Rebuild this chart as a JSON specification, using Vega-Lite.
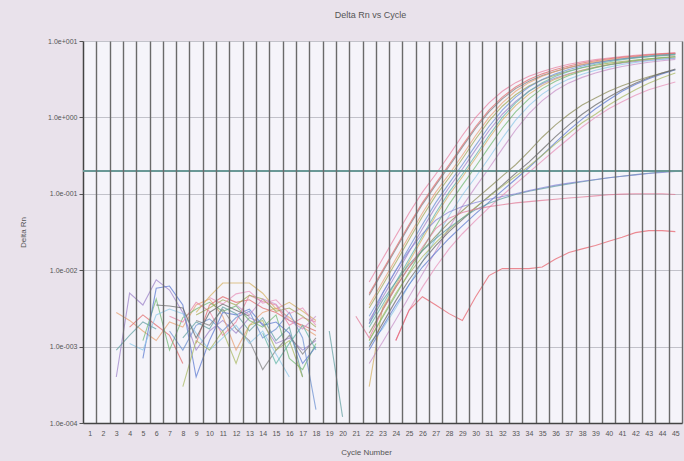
{
"$schema":"https://vega.github.io/schema/vega-lite/v6.json",
"width":599,"height":382,
"autosize":{"type":"none"},
"padding":{"left":83,"top":41,"right":2,"bottom":38},
"background":"#e9e2eb",
"title":{"text":"Delta Rn vs Cycle","fontSize":9,"font":"Liberation Sans","fontWeight":"normal","color":"#555555","offset":17,"dx":-12},
"config":{"view":{"fill":"#f5f4fa","stroke":null},"axis":{"labelFont":"Liberation Sans","titleFont":"Liberation Sans","labelColor":"#555555","titleColor":"#555555"}},
"data":{"values":[
{"w":"M1","g":"a","c":22,"v":0.007},{"w":"M1","g":"a","c":23,"v":0.014},{"w":"M1","g":"a","c":24,"v":0.028},{"w":"M1","g":"a","c":25,"v":0.056},{"w":"M1","g":"a","c":26,"v":0.105},{"w":"M1","g":"a","c":27,"v":0.18},{"w":"M1","g":"a","c":28,"v":0.32},{"w":"M1","g":"a","c":29,"v":0.58},{"w":"M1","g":"a","c":30,"v":1.0},{"w":"M1","g":"a","c":31,"v":1.55},{"w":"M1","g":"a","c":32,"v":2.2},{"w":"M1","g":"a","c":33,"v":2.85},{"w":"M1","g":"a","c":34,"v":3.45},{"w":"M1","g":"a","c":35,"v":4.0},{"w":"M1","g":"a","c":36,"v":4.5},{"w":"M1","g":"a","c":37,"v":4.95},{"w":"M1","g":"a","c":38,"v":5.35},{"w":"M1","g":"a","c":39,"v":5.7},{"w":"M1","g":"a","c":40,"v":6.0},{"w":"M1","g":"a","c":41,"v":6.25},{"w":"M1","g":"a","c":42,"v":6.5},{"w":"M1","g":"a","c":43,"v":6.7},{"w":"M1","g":"a","c":44,"v":6.85},{"w":"M1","g":"a","c":45,"v":7.0},
{"w":"M2","g":"a","c":22,"v":0.0047},{"w":"M2","g":"a","c":23,"v":0.0094},{"w":"M2","g":"a","c":24,"v":0.0188},{"w":"M2","g":"a","c":25,"v":0.0376},{"w":"M2","g":"a","c":26,"v":0.0728},{"w":"M2","g":"a","c":27,"v":0.13},{"w":"M2","g":"a","c":28,"v":0.228},{"w":"M2","g":"a","c":29,"v":0.409},{"w":"M2","g":"a","c":30,"v":0.722},{"w":"M2","g":"a","c":31,"v":1.18},{"w":"M2","g":"a","c":32,"v":1.75},{"w":"M2","g":"a","c":33,"v":2.38},{"w":"M2","g":"a","c":34,"v":2.98},{"w":"M2","g":"a","c":35,"v":3.53},{"w":"M2","g":"a","c":36,"v":4.03},{"w":"M2","g":"a","c":37,"v":4.48},{"w":"M2","g":"a","c":38,"v":4.89},{"w":"M2","g":"a","c":39,"v":5.24},{"w":"M2","g":"a","c":40,"v":5.56},{"w":"M2","g":"a","c":41,"v":5.81},{"w":"M2","g":"a","c":42,"v":6.06},{"w":"M2","g":"a","c":43,"v":6.27},{"w":"M2","g":"a","c":44,"v":6.44},{"w":"M2","g":"a","c":45,"v":6.58},
{"w":"M3","g":"a","c":22,"v":0.0035},{"w":"M3","g":"a","c":23,"v":0.007},{"w":"M3","g":"a","c":24,"v":0.014},{"w":"M3","g":"a","c":25,"v":0.028},{"w":"M3","g":"a","c":26,"v":0.056},{"w":"M3","g":"a","c":27,"v":0.105},{"w":"M3","g":"a","c":28,"v":0.18},{"w":"M3","g":"a","c":29,"v":0.32},{"w":"M3","g":"a","c":30,"v":0.58},{"w":"M3","g":"a","c":31,"v":1.0},{"w":"M3","g":"a","c":32,"v":1.55},{"w":"M3","g":"a","c":33,"v":2.2},{"w":"M3","g":"a","c":34,"v":2.85},{"w":"M3","g":"a","c":35,"v":3.45},{"w":"M3","g":"a","c":36,"v":4.0},{"w":"M3","g":"a","c":37,"v":4.5},{"w":"M3","g":"a","c":38,"v":4.95},{"w":"M3","g":"a","c":39,"v":5.35},{"w":"M3","g":"a","c":40,"v":5.7},{"w":"M3","g":"a","c":41,"v":6.0},{"w":"M3","g":"a","c":42,"v":6.25},{"w":"M3","g":"a","c":43,"v":6.5},{"w":"M3","g":"a","c":44,"v":6.7},{"w":"M3","g":"a","c":45,"v":6.85},
{"w":"M4","g":"a","c":22,"v":0.0032},{"w":"M4","g":"a","c":23,"v":0.0063},{"w":"M4","g":"a","c":24,"v":0.0126},{"w":"M4","g":"a","c":25,"v":0.0252},{"w":"M4","g":"a","c":26,"v":0.0504},{"w":"M4","g":"a","c":27,"v":0.0945},{"w":"M4","g":"a","c":28,"v":0.162},{"w":"M4","g":"a","c":29,"v":0.288},{"w":"M4","g":"a","c":30,"v":0.522},{"w":"M4","g":"a","c":31,"v":0.9},{"w":"M4","g":"a","c":32,"v":1.4},{"w":"M4","g":"a","c":33,"v":1.98},{"w":"M4","g":"a","c":34,"v":2.57},{"w":"M4","g":"a","c":35,"v":3.11},{"w":"M4","g":"a","c":36,"v":3.6},{"w":"M4","g":"a","c":37,"v":4.05},{"w":"M4","g":"a","c":38,"v":4.46},{"w":"M4","g":"a","c":39,"v":4.82},{"w":"M4","g":"a","c":40,"v":5.13},{"w":"M4","g":"a","c":41,"v":5.4},{"w":"M4","g":"a","c":42,"v":5.63},{"w":"M4","g":"a","c":43,"v":5.85},{"w":"M4","g":"a","c":44,"v":6.03},{"w":"M4","g":"a","c":45,"v":6.17},
{"w":"M5","g":"a","c":22,"v":0.0025},{"w":"M5","g":"a","c":23,"v":0.00495},{"w":"M5","g":"a","c":24,"v":0.0099},{"w":"M5","g":"a","c":25,"v":0.0198},{"w":"M5","g":"a","c":26,"v":0.0396},{"w":"M5","g":"a","c":27,"v":0.0766},{"w":"M5","g":"a","c":28,"v":0.137},{"w":"M5","g":"a","c":29,"v":0.24},{"w":"M5","g":"a","c":30,"v":0.43},{"w":"M5","g":"a","c":31,"v":0.76},{"w":"M5","g":"a","c":32,"v":1.245},{"w":"M5","g":"a","c":33,"v":1.845},{"w":"M5","g":"a","c":34,"v":2.5},{"w":"M5","g":"a","c":35,"v":3.14},{"w":"M5","g":"a","c":36,"v":3.715},{"w":"M5","g":"a","c":37,"v":4.24},{"w":"M5","g":"a","c":38,"v":4.72},{"w":"M5","g":"a","c":39,"v":5.15},{"w":"M5","g":"a","c":40,"v":5.52},{"w":"M5","g":"a","c":41,"v":5.85},{"w":"M5","g":"a","c":42,"v":6.12},{"w":"M5","g":"a","c":43,"v":6.375},{"w":"M5","g":"a","c":44,"v":6.6},{"w":"M5","g":"a","c":45,"v":6.78},
{"w":"M6","g":"a","c":22,"v":0.0022},{"w":"M6","g":"a","c":23,"v":0.0044},{"w":"M6","g":"a","c":24,"v":0.0087},{"w":"M6","g":"a","c":25,"v":0.0174},{"w":"M6","g":"a","c":26,"v":0.0348},{"w":"M6","g":"a","c":27,"v":0.0674},{"w":"M6","g":"a","c":28,"v":0.121},{"w":"M6","g":"a","c":29,"v":0.211},{"w":"M6","g":"a","c":30,"v":0.378},{"w":"M6","g":"a","c":31,"v":0.669},{"w":"M6","g":"a","c":32,"v":1.1},{"w":"M6","g":"a","c":33,"v":1.62},{"w":"M6","g":"a","c":34,"v":2.2},{"w":"M6","g":"a","c":35,"v":2.76},{"w":"M6","g":"a","c":36,"v":3.27},{"w":"M6","g":"a","c":37,"v":3.73},{"w":"M6","g":"a","c":38,"v":4.15},{"w":"M6","g":"a","c":39,"v":4.53},{"w":"M6","g":"a","c":40,"v":4.86},{"w":"M6","g":"a","c":41,"v":5.15},{"w":"M6","g":"a","c":42,"v":5.39},{"w":"M6","g":"a","c":43,"v":5.61},{"w":"M6","g":"a","c":44,"v":5.81},{"w":"M6","g":"a","c":45,"v":5.97},
{"w":"M7","g":"a","c":22,"v":0.0018},{"w":"M7","g":"a","c":23,"v":0.0035},{"w":"M7","g":"a","c":24,"v":0.007},{"w":"M7","g":"a","c":25,"v":0.014},{"w":"M7","g":"a","c":26,"v":0.028},{"w":"M7","g":"a","c":27,"v":0.056},{"w":"M7","g":"a","c":28,"v":0.105},{"w":"M7","g":"a","c":29,"v":0.18},{"w":"M7","g":"a","c":30,"v":0.32},{"w":"M7","g":"a","c":31,"v":0.58},{"w":"M7","g":"a","c":32,"v":1.0},{"w":"M7","g":"a","c":33,"v":1.55},{"w":"M7","g":"a","c":34,"v":2.2},{"w":"M7","g":"a","c":35,"v":2.85},{"w":"M7","g":"a","c":36,"v":3.45},{"w":"M7","g":"a","c":37,"v":4.0},{"w":"M7","g":"a","c":38,"v":4.5},{"w":"M7","g":"a","c":39,"v":4.95},{"w":"M7","g":"a","c":40,"v":5.35},{"w":"M7","g":"a","c":41,"v":5.7},{"w":"M7","g":"a","c":42,"v":6.0},{"w":"M7","g":"a","c":43,"v":6.25},{"w":"M7","g":"a","c":44,"v":6.5},{"w":"M7","g":"a","c":45,"v":6.7},
{"w":"M8","g":"a","c":22,"v":0.0003},{"w":"M8","g":"a","c":23,"v":0.0032},{"w":"M8","g":"a","c":24,"v":0.0064},{"w":"M8","g":"a","c":25,"v":0.0129},{"w":"M8","g":"a","c":26,"v":0.0258},{"w":"M8","g":"a","c":27,"v":0.0515},{"w":"M8","g":"a","c":28,"v":0.0966},{"w":"M8","g":"a","c":29,"v":0.166},{"w":"M8","g":"a","c":30,"v":0.294},{"w":"M8","g":"a","c":31,"v":0.534},{"w":"M8","g":"a","c":32,"v":0.92},{"w":"M8","g":"a","c":33,"v":1.43},{"w":"M8","g":"a","c":34,"v":2.02},{"w":"M8","g":"a","c":35,"v":2.62},{"w":"M8","g":"a","c":36,"v":3.17},{"w":"M8","g":"a","c":37,"v":3.68},{"w":"M8","g":"a","c":38,"v":4.14},{"w":"M8","g":"a","c":39,"v":4.55},{"w":"M8","g":"a","c":40,"v":4.92},{"w":"M8","g":"a","c":41,"v":5.24},{"w":"M8","g":"a","c":42,"v":5.52},{"w":"M8","g":"a","c":43,"v":5.75},{"w":"M8","g":"a","c":44,"v":5.98},{"w":"M8","g":"a","c":45,"v":6.16},
{"w":"M9","g":"a","c":22,"v":0.0012},{"w":"M9","g":"a","c":23,"v":0.0024},{"w":"M9","g":"a","c":24,"v":0.0047},{"w":"M9","g":"a","c":25,"v":0.0094},{"w":"M9","g":"a","c":26,"v":0.0188},{"w":"M9","g":"a","c":27,"v":0.0376},{"w":"M9","g":"a","c":28,"v":0.0728},{"w":"M9","g":"a","c":29,"v":0.13},{"w":"M9","g":"a","c":30,"v":0.228},{"w":"M9","g":"a","c":31,"v":0.409},{"w":"M9","g":"a","c":32,"v":0.722},{"w":"M9","g":"a","c":33,"v":1.18},{"w":"M9","g":"a","c":34,"v":1.75},{"w":"M9","g":"a","c":35,"v":2.38},{"w":"M9","g":"a","c":36,"v":2.98},{"w":"M9","g":"a","c":37,"v":3.53},{"w":"M9","g":"a","c":38,"v":4.03},{"w":"M9","g":"a","c":39,"v":4.48},{"w":"M9","g":"a","c":40,"v":4.89},{"w":"M9","g":"a","c":41,"v":5.24},{"w":"M9","g":"a","c":42,"v":5.56},{"w":"M9","g":"a","c":43,"v":5.81},{"w":"M9","g":"a","c":44,"v":6.06},{"w":"M9","g":"a","c":45,"v":6.27},
{"w":"M10","g":"a","c":22,"v":0.0011},{"w":"M10","g":"a","c":23,"v":0.0017},{"w":"M10","g":"a","c":24,"v":0.0032},{"w":"M10","g":"a","c":25,"v":0.0064},{"w":"M10","g":"a","c":26,"v":0.0129},{"w":"M10","g":"a","c":27,"v":0.0258},{"w":"M10","g":"a","c":28,"v":0.0515},{"w":"M10","g":"a","c":29,"v":0.0966},{"w":"M10","g":"a","c":30,"v":0.166},{"w":"M10","g":"a","c":31,"v":0.294},{"w":"M10","g":"a","c":32,"v":0.534},{"w":"M10","g":"a","c":33,"v":0.92},{"w":"M10","g":"a","c":34,"v":1.43},{"w":"M10","g":"a","c":35,"v":2.02},{"w":"M10","g":"a","c":36,"v":2.62},{"w":"M10","g":"a","c":37,"v":3.17},{"w":"M10","g":"a","c":38,"v":3.68},{"w":"M10","g":"a","c":39,"v":4.14},{"w":"M10","g":"a","c":40,"v":4.55},{"w":"M10","g":"a","c":41,"v":4.92},{"w":"M10","g":"a","c":42,"v":5.24},{"w":"M10","g":"a","c":43,"v":5.52},{"w":"M10","g":"a","c":44,"v":5.75},{"w":"M10","g":"a","c":45,"v":5.98},
{"w":"M11","g":"a","c":22,"v":0.0006},{"w":"M11","g":"a","c":23,"v":0.00114},{"w":"M11","g":"a","c":24,"v":0.00225},{"w":"M11","g":"a","c":25,"v":0.0045},{"w":"M11","g":"a","c":26,"v":0.0089},{"w":"M11","g":"a","c":27,"v":0.0178},{"w":"M11","g":"a","c":28,"v":0.0356},{"w":"M11","g":"a","c":29,"v":0.0689},{"w":"M11","g":"a","c":30,"v":0.123},{"w":"M11","g":"a","c":31,"v":0.216},{"w":"M11","g":"a","c":32,"v":0.387},{"w":"M11","g":"a","c":33,"v":0.684},{"w":"M11","g":"a","c":34,"v":1.12},{"w":"M11","g":"a","c":35,"v":1.66},{"w":"M11","g":"a","c":36,"v":2.25},{"w":"M11","g":"a","c":37,"v":2.83},{"w":"M11","g":"a","c":38,"v":3.34},{"w":"M11","g":"a","c":39,"v":3.82},{"w":"M11","g":"a","c":40,"v":4.25},{"w":"M11","g":"a","c":41,"v":4.64},{"w":"M11","g":"a","c":42,"v":4.97},{"w":"M11","g":"a","c":43,"v":5.27},{"w":"M11","g":"a","c":44,"v":5.51},{"w":"M11","g":"a","c":45,"v":5.74},
{"w":"M12","g":"a","c":22,"v":0.00495},{"w":"M12","g":"a","c":23,"v":0.0099},{"w":"M12","g":"a","c":24,"v":0.0198},{"w":"M12","g":"a","c":25,"v":0.0396},{"w":"M12","g":"a","c":26,"v":0.0766},{"w":"M12","g":"a","c":27,"v":0.137},{"w":"M12","g":"a","c":28,"v":0.24},{"w":"M12","g":"a","c":29,"v":0.43},{"w":"M12","g":"a","c":30,"v":0.76},{"w":"M12","g":"a","c":31,"v":1.245},{"w":"M12","g":"a","c":32,"v":1.845},{"w":"M12","g":"a","c":33,"v":2.5},{"w":"M12","g":"a","c":34,"v":3.14},{"w":"M12","g":"a","c":35,"v":3.715},{"w":"M12","g":"a","c":36,"v":4.24},{"w":"M12","g":"a","c":37,"v":4.72},{"w":"M12","g":"a","c":38,"v":5.15},{"w":"M12","g":"a","c":39,"v":5.52},{"w":"M12","g":"a","c":40,"v":5.85},{"w":"M12","g":"a","c":41,"v":6.12},{"w":"M12","g":"a","c":42,"v":6.375},{"w":"M12","g":"a","c":43,"v":6.6},{"w":"M12","g":"a","c":44,"v":6.78},{"w":"M12","g":"a","c":45,"v":6.93},
{"w":"K1","g":"a","c":22,"v":0.0015},{"w":"K1","g":"a","c":23,"v":0.003},{"w":"K1","g":"a","c":24,"v":0.006},{"w":"K1","g":"a","c":25,"v":0.011},{"w":"K1","g":"a","c":26,"v":0.018},{"w":"K1","g":"a","c":27,"v":0.028},{"w":"K1","g":"a","c":28,"v":0.042},{"w":"K1","g":"a","c":29,"v":0.06},{"w":"K1","g":"a","c":30,"v":0.085},{"w":"K1","g":"a","c":31,"v":0.12},{"w":"K1","g":"a","c":32,"v":0.17},{"w":"K1","g":"a","c":33,"v":0.24},{"w":"K1","g":"a","c":34,"v":0.36},{"w":"K1","g":"a","c":35,"v":0.55},{"w":"K1","g":"a","c":36,"v":0.8},{"w":"K1","g":"a","c":37,"v":1.1},{"w":"K1","g":"a","c":38,"v":1.45},{"w":"K1","g":"a","c":39,"v":1.8},{"w":"K1","g":"a","c":40,"v":2.2},{"w":"K1","g":"a","c":41,"v":2.6},{"w":"K1","g":"a","c":42,"v":3.0},{"w":"K1","g":"a","c":43,"v":3.4},{"w":"K1","g":"a","c":44,"v":3.8},{"w":"K1","g":"a","c":45,"v":4.2},
{"w":"K2","g":"a","c":22,"v":0.0009},{"w":"K2","g":"a","c":23,"v":0.0018},{"w":"K2","g":"a","c":24,"v":0.0035},{"w":"K2","g":"a","c":25,"v":0.0065},{"w":"K2","g":"a","c":26,"v":0.011},{"w":"K2","g":"a","c":27,"v":0.017},{"w":"K2","g":"a","c":28,"v":0.026},{"w":"K2","g":"a","c":29,"v":0.038},{"w":"K2","g":"a","c":30,"v":0.055},{"w":"K2","g":"a","c":31,"v":0.078},{"w":"K2","g":"a","c":32,"v":0.11},{"w":"K2","g":"a","c":33,"v":0.155},{"w":"K2","g":"a","c":34,"v":0.22},{"w":"K2","g":"a","c":35,"v":0.32},{"w":"K2","g":"a","c":36,"v":0.47},{"w":"K2","g":"a","c":37,"v":0.68},{"w":"K2","g":"a","c":38,"v":0.95},{"w":"K2","g":"a","c":39,"v":1.3},{"w":"K2","g":"a","c":40,"v":1.7},{"w":"K2","g":"a","c":41,"v":2.2},{"w":"K2","g":"a","c":42,"v":2.7},{"w":"K2","g":"a","c":43,"v":3.2},{"w":"K2","g":"a","c":44,"v":3.7},{"w":"K2","g":"a","c":45,"v":4.2},
{"w":"K3","g":"a","c":22,"v":0.001},{"w":"K3","g":"a","c":23,"v":0.002},{"w":"K3","g":"a","c":24,"v":0.004},{"w":"K3","g":"a","c":25,"v":0.0075},{"w":"K3","g":"a","c":26,"v":0.013},{"w":"K3","g":"a","c":27,"v":0.021},{"w":"K3","g":"a","c":28,"v":0.032},{"w":"K3","g":"a","c":29,"v":0.046},{"w":"K3","g":"a","c":30,"v":0.066},{"w":"K3","g":"a","c":31,"v":0.093},{"w":"K3","g":"a","c":32,"v":0.13},{"w":"K3","g":"a","c":33,"v":0.185},{"w":"K3","g":"a","c":34,"v":0.26},{"w":"K3","g":"a","c":35,"v":0.38},{"w":"K3","g":"a","c":36,"v":0.56},{"w":"K3","g":"a","c":37,"v":0.8},{"w":"K3","g":"a","c":38,"v":1.1},{"w":"K3","g":"a","c":39,"v":1.45},{"w":"K3","g":"a","c":40,"v":1.85},{"w":"K3","g":"a","c":41,"v":2.3},{"w":"K3","g":"a","c":42,"v":2.8},{"w":"K3","g":"a","c":43,"v":3.3},{"w":"K3","g":"a","c":44,"v":3.8},{"w":"K3","g":"a","c":45,"v":4.3},
{"w":"K4","g":"a","c":24,"v":0.0012},{"w":"K4","g":"a","c":25,"v":0.003},{"w":"K4","g":"a","c":26,"v":0.006},{"w":"K4","g":"a","c":27,"v":0.011},{"w":"K4","g":"a","c":28,"v":0.019},{"w":"K4","g":"a","c":29,"v":0.03},{"w":"K4","g":"a","c":30,"v":0.045},{"w":"K4","g":"a","c":31,"v":0.066},{"w":"K4","g":"a","c":32,"v":0.095},{"w":"K4","g":"a","c":33,"v":0.135},{"w":"K4","g":"a","c":34,"v":0.19},{"w":"K4","g":"a","c":35,"v":0.27},{"w":"K4","g":"a","c":36,"v":0.38},{"w":"K4","g":"a","c":37,"v":0.53},{"w":"K4","g":"a","c":38,"v":0.75},{"w":"K4","g":"a","c":39,"v":1.0},{"w":"K4","g":"a","c":40,"v":1.3},{"w":"K4","g":"a","c":41,"v":1.6},{"w":"K4","g":"a","c":42,"v":1.95},{"w":"K4","g":"a","c":43,"v":2.3},{"w":"K4","g":"a","c":44,"v":2.6},{"w":"K4","g":"a","c":45,"v":2.9},
{"w":"K5","g":"a","c":22,"v":0.0012},{"w":"K5","g":"a","c":23,"v":0.0025},{"w":"K5","g":"a","c":24,"v":0.005},{"w":"K5","g":"a","c":25,"v":0.009},{"w":"K5","g":"a","c":26,"v":0.015},{"w":"K5","g":"a","c":27,"v":0.023},{"w":"K5","g":"a","c":28,"v":0.034},{"w":"K5","g":"a","c":29,"v":0.048},{"w":"K5","g":"a","c":30,"v":0.067},{"w":"K5","g":"a","c":31,"v":0.092},{"w":"K5","g":"a","c":32,"v":0.125},{"w":"K5","g":"a","c":33,"v":0.17},{"w":"K5","g":"a","c":34,"v":0.23},{"w":"K5","g":"a","c":35,"v":0.32},{"w":"K5","g":"a","c":36,"v":0.45},{"w":"K5","g":"a","c":37,"v":0.62},{"w":"K5","g":"a","c":38,"v":0.85},{"w":"K5","g":"a","c":39,"v":1.1},{"w":"K5","g":"a","c":40,"v":1.45},{"w":"K5","g":"a","c":41,"v":1.85},{"w":"K5","g":"a","c":42,"v":2.3},{"w":"K5","g":"a","c":43,"v":2.8},{"w":"K5","g":"a","c":44,"v":3.3},{"w":"K5","g":"a","c":45,"v":3.8},
{"w":"F1","g":"a","c":22,"v":0.002},{"w":"F1","g":"a","c":23,"v":0.004},{"w":"F1","g":"a","c":24,"v":0.007},{"w":"F1","g":"a","c":25,"v":0.012},{"w":"F1","g":"a","c":26,"v":0.018},{"w":"F1","g":"a","c":27,"v":0.026},{"w":"F1","g":"a","c":28,"v":0.036},{"w":"F1","g":"a","c":29,"v":0.048},{"w":"F1","g":"a","c":30,"v":0.062},{"w":"F1","g":"a","c":31,"v":0.075},{"w":"F1","g":"a","c":32,"v":0.087},{"w":"F1","g":"a","c":33,"v":0.098},{"w":"F1","g":"a","c":34,"v":0.108},{"w":"F1","g":"a","c":35,"v":0.117},{"w":"F1","g":"a","c":36,"v":0.126},{"w":"F1","g":"a","c":37,"v":0.135},{"w":"F1","g":"a","c":38,"v":0.144},{"w":"F1","g":"a","c":39,"v":0.153},{"w":"F1","g":"a","c":40,"v":0.162},{"w":"F1","g":"a","c":41,"v":0.17},{"w":"F1","g":"a","c":42,"v":0.178},{"w":"F1","g":"a","c":43,"v":0.186},{"w":"F1","g":"a","c":44,"v":0.193},{"w":"F1","g":"a","c":45,"v":0.2},
{"w":"F2","g":"a","c":21,"v":0.0025},{"w":"F2","g":"a","c":22,"v":0.0013},{"w":"F2","g":"a","c":23,"v":0.003},{"w":"F2","g":"a","c":24,"v":0.006},{"w":"F2","g":"a","c":25,"v":0.011},{"w":"F2","g":"a","c":26,"v":0.02},{"w":"F2","g":"a","c":27,"v":0.035},{"w":"F2","g":"a","c":28,"v":0.048},{"w":"F2","g":"a","c":29,"v":0.057},{"w":"F2","g":"a","c":30,"v":0.063},{"w":"F2","g":"a","c":31,"v":0.068},{"w":"F2","g":"a","c":32,"v":0.072},{"w":"F2","g":"a","c":33,"v":0.076},{"w":"F2","g":"a","c":34,"v":0.079},{"w":"F2","g":"a","c":35,"v":0.082},{"w":"F2","g":"a","c":36,"v":0.085},{"w":"F2","g":"a","c":37,"v":0.088},{"w":"F2","g":"a","c":38,"v":0.091},{"w":"F2","g":"a","c":39,"v":0.094},{"w":"F2","g":"a","c":40,"v":0.097},{"w":"F2","g":"a","c":41,"v":0.099},{"w":"F2","g":"a","c":42,"v":0.1},{"w":"F2","g":"a","c":43,"v":0.1},{"w":"F2","g":"a","c":44,"v":0.1},{"w":"F2","g":"a","c":45,"v":0.098},
{"w":"F3","g":"a","c":22,"v":0.002},{"w":"F3","g":"a","c":23,"v":0.005},{"w":"F3","g":"a","c":24,"v":0.01},{"w":"F3","g":"a","c":25,"v":0.018},{"w":"F3","g":"a","c":26,"v":0.03},{"w":"F3","g":"a","c":27,"v":0.045},{"w":"F3","g":"a","c":28,"v":0.058},{"w":"F3","g":"a","c":29,"v":0.068},{"w":"F3","g":"a","c":30,"v":0.077},{"w":"F3","g":"a","c":31,"v":0.085},{"w":"F3","g":"a","c":32,"v":0.092},{"w":"F3","g":"a","c":33,"v":0.1},{"w":"F3","g":"a","c":34,"v":0.11},{"w":"F3","g":"a","c":35,"v":0.12},{"w":"F3","g":"a","c":36,"v":0.13},{"w":"F3","g":"a","c":37,"v":0.138},{"w":"F3","g":"a","c":38,"v":0.146},{"w":"F3","g":"a","c":39,"v":0.154},{"w":"F3","g":"a","c":40,"v":0.162},{"w":"F3","g":"a","c":41,"v":0.17},{"w":"F3","g":"a","c":42,"v":0.177},{"w":"F3","g":"a","c":43,"v":0.184},{"w":"F3","g":"a","c":44,"v":0.19},{"w":"F3","g":"a","c":45,"v":0.196},
{"w":"F4","g":"a","c":24,"v":0.0012},{"w":"F4","g":"a","c":25,"v":0.003},{"w":"F4","g":"a","c":26,"v":0.0045},{"w":"F4","g":"a","c":27,"v":0.0035},{"w":"F4","g":"a","c":28,"v":0.0027},{"w":"F4","g":"a","c":29,"v":0.0022},{"w":"F4","g":"a","c":30,"v":0.0045},{"w":"F4","g":"a","c":31,"v":0.0085},{"w":"F4","g":"a","c":32,"v":0.0105},{"w":"F4","g":"a","c":33,"v":0.0105},{"w":"F4","g":"a","c":34,"v":0.0105},{"w":"F4","g":"a","c":35,"v":0.011},{"w":"F4","g":"a","c":36,"v":0.014},{"w":"F4","g":"a","c":37,"v":0.017},{"w":"F4","g":"a","c":38,"v":0.019},{"w":"F4","g":"a","c":39,"v":0.021},{"w":"F4","g":"a","c":40,"v":0.024},{"w":"F4","g":"a","c":41,"v":0.027},{"w":"F4","g":"a","c":42,"v":0.031},{"w":"F4","g":"a","c":43,"v":0.033},{"w":"F4","g":"a","c":44,"v":0.033},{"w":"F4","g":"a","c":45,"v":0.032},
{"w":"M6","g":"n","c":3,"v":0.0004},{"w":"M6","g":"n","c":4,"v":0.005},{"w":"M6","g":"n","c":5,"v":0.0035},{"w":"M6","g":"n","c":6,"v":0.0075},{"w":"M6","g":"n","c":7,"v":0.0055},{"w":"M6","g":"n","c":8,"v":0.0028},{"w":"M6","g":"n","c":9,"v":0.0009},{"w":"M6","g":"n","c":10,"v":0.0016},{"w":"M6","g":"n","c":11,"v":0.0022},{"w":"M6","g":"n","c":12,"v":0.0015},{"w":"M6","g":"n","c":13,"v":0.0024},{"w":"M6","g":"n","c":14,"v":0.002},{"w":"M6","g":"n","c":15,"v":0.0011},{"w":"M6","g":"n","c":16,"v":0.0013},{"w":"M6","g":"n","c":17,"v":0.0009},{"w":"M6","g":"n","c":18,"v":0.0012},
{"w":"M3","g":"n","c":3,"v":0.0028},{"w":"M3","g":"n","c":4,"v":0.0022},{"w":"M3","g":"n","c":5,"v":0.0016},{"w":"M3","g":"n","c":6,"v":0.0012},{"w":"M3","g":"n","c":7,"v":0.0021},{"w":"M3","g":"n","c":8,"v":0.0018},{"w":"M3","g":"n","c":9,"v":0.0035},{"w":"M3","g":"n","c":10,"v":0.0042},{"w":"M3","g":"n","c":11,"v":0.0025},{"w":"M3","g":"n","c":12,"v":0.0009},{"w":"M3","g":"n","c":13,"v":0.0019},{"w":"M3","g":"n","c":14,"v":0.0028},{"w":"M3","g":"n","c":15,"v":0.0032},{"w":"M3","g":"n","c":16,"v":0.0024},{"w":"M3","g":"n","c":17,"v":0.0018},{"w":"M3","g":"n","c":18,"v":0.0014},
{"w":"M12","g":"n1","c":4,"v":0.0018},{"w":"M12","g":"n1","c":5,"v":0.0026},{"w":"M12","g":"n1","c":6,"v":0.0019},{"w":"M12","g":"n1","c":7,"v":0.0014},{"w":"M12","g":"n1","c":8,"v":0.0006},{"w":"M12","g":"n2","c":9,"v":0.0011},{"w":"M12","g":"n2","c":10,"v":0.0035},{"w":"M12","g":"n2","c":11,"v":0.0045},{"w":"M12","g":"n2","c":12,"v":0.0038},{"w":"M12","g":"n2","c":13,"v":0.0041},{"w":"M12","g":"n2","c":14,"v":0.0032},{"w":"M12","g":"n2","c":15,"v":0.0028},{"w":"M12","g":"n2","c":16,"v":0.0022},{"w":"M12","g":"n2","c":17,"v":0.0019},{"w":"M12","g":"n2","c":18,"v":0.0016},
{"w":"M9","g":"n","c":5,"v":0.0012},{"w":"M9","g":"n","c":6,"v":0.0042},{"w":"M9","g":"n","c":7,"v":0.0009},{"w":"M9","g":"n","c":8,"v":0.0024},{"w":"M9","g":"n","c":9,"v":0.0031},{"w":"M9","g":"n","c":10,"v":0.0038},{"w":"M9","g":"n","c":11,"v":0.0029},{"w":"M9","g":"n","c":12,"v":0.0034},{"w":"M9","g":"n","c":13,"v":0.0022},{"w":"M9","g":"n","c":14,"v":0.0018},{"w":"M9","g":"n","c":15,"v":0.0026},{"w":"M9","g":"n","c":16,"v":0.0007},{"w":"M9","g":"n","c":17,"v":0.0005},{"w":"M9","g":"n","c":18,"v":0.0011},
{"w":"K2","g":"n","c":5,"v":0.0007},{"w":"K2","g":"n","c":6,"v":0.0058},{"w":"K2","g":"n","c":7,"v":0.0062},{"w":"K2","g":"n","c":8,"v":0.0035},{"w":"K2","g":"n","c":9,"v":0.0004},{"w":"K2","g":"n","c":10,"v":0.0012},{"w":"K2","g":"n","c":11,"v":0.0028},{"w":"K2","g":"n","c":12,"v":0.0026},{"w":"K2","g":"n","c":13,"v":0.0031},{"w":"K2","g":"n","c":14,"v":0.0019},{"w":"K2","g":"n","c":15,"v":0.0021},{"w":"K2","g":"n","c":16,"v":0.0015},{"w":"K2","g":"n","c":17,"v":0.0006},{"w":"K2","g":"n","c":18,"v":0.001},
{"w":"F1","g":"n1","c":3,"v":0.0009},{"w":"F1","g":"n1","c":4,"v":0.0014},{"w":"F1","g":"n1","c":5,"v":0.0021},{"w":"F1","g":"n1","c":6,"v":0.0017},{"w":"F1","g":"n2","c":8,"v":0.0013},{"w":"F1","g":"n2","c":9,"v":0.0021},{"w":"F1","g":"n2","c":10,"v":0.0017},{"w":"F1","g":"n2","c":11,"v":0.0033},{"w":"F1","g":"n2","c":12,"v":0.0027},{"w":"F1","g":"n2","c":13,"v":0.0016},{"w":"F1","g":"n2","c":14,"v":0.0024},{"w":"F1","g":"n2","c":15,"v":0.0012},{"w":"F1","g":"n2","c":16,"v":0.0018},{"w":"F1","g":"n2","c":17,"v":0.0004},{"w":"F1","g":"n3","c":19,"v":0.0016},{"w":"F1","g":"n3","c":20,"v":0.00012},
{"w":"M8","g":"n","c":9,"v":0.0028},{"w":"M8","g":"n","c":10,"v":0.0045},{"w":"M8","g":"n","c":11,"v":0.0068},{"w":"M8","g":"n","c":12,"v":0.0068},{"w":"M8","g":"n","c":13,"v":0.0068},{"w":"M8","g":"n","c":14,"v":0.005},{"w":"M8","g":"n","c":15,"v":0.0031},{"w":"M8","g":"n","c":16,"v":0.0038},{"w":"M8","g":"n","c":17,"v":0.0029},{"w":"M8","g":"n","c":18,"v":0.0022},
{"w":"M1","g":"n","c":7,"v":0.0025},{"w":"M1","g":"n","c":8,"v":0.0021},{"w":"M1","g":"n","c":9,"v":0.0038},{"w":"M1","g":"n","c":10,"v":0.0029},{"w":"M1","g":"n","c":11,"v":0.0014},{"w":"M1","g":"n","c":12,"v":0.0021},{"w":"M1","g":"n","c":13,"v":0.0047},{"w":"M1","g":"n","c":14,"v":0.0039},{"w":"M1","g":"n","c":15,"v":0.0035},{"w":"M1","g":"n","c":16,"v":0.0019},{"w":"M1","g":"n","c":17,"v":0.0024},{"w":"M1","g":"n","c":18,"v":0.0021},
{"w":"M5","g":"n","c":7,"v":0.0016},{"w":"M5","g":"n","c":8,"v":0.0009},{"w":"M5","g":"n","c":9,"v":0.0019},{"w":"M5","g":"n","c":10,"v":0.0023},{"w":"M5","g":"n","c":11,"v":0.0016},{"w":"M5","g":"n","c":12,"v":0.0024},{"w":"M5","g":"n","c":13,"v":0.0029},{"w":"M5","g":"n","c":14,"v":0.0013},{"w":"M5","g":"n","c":15,"v":0.0017},{"w":"M5","g":"n","c":16,"v":0.0028},{"w":"M5","g":"n","c":17,"v":0.0013},{"w":"M5","g":"n","c":18,"v":0.00015},
{"w":"M2","g":"n","c":9,"v":0.0022},{"w":"M2","g":"n","c":10,"v":0.0019},{"w":"M2","g":"n","c":11,"v":0.0031},{"w":"M2","g":"n","c":12,"v":0.0017},{"w":"M2","g":"n","c":13,"v":0.0012},{"w":"M2","g":"n","c":14,"v":0.0005},{"w":"M2","g":"n","c":15,"v":0.0009},{"w":"M2","g":"n","c":16,"v":0.0014},{"w":"M2","g":"n","c":17,"v":0.0008},{"w":"M2","g":"n","c":18,"v":0.0013},
{"w":"M10","g":"n","c":4,"v":0.0011},{"w":"M10","g":"n","c":5,"v":0.0009},{"w":"M10","g":"n","c":6,"v":0.0026},{"w":"M10","g":"n","c":7,"v":0.0031},{"w":"M10","g":"n","c":8,"v":0.0027},{"w":"M10","g":"n","c":9,"v":0.0015},{"w":"M10","g":"n","c":10,"v":0.0009},{"w":"M10","g":"n","c":11,"v":0.0013},{"w":"M10","g":"n","c":12,"v":0.0019},{"w":"M10","g":"n","c":13,"v":0.0011},{"w":"M10","g":"n","c":14,"v":0.0016},{"w":"M10","g":"n","c":15,"v":0.0008},{"w":"M10","g":"n","c":16,"v":0.0004},
{"w":"M4","g":"n","c":9,"v":0.0026},{"w":"M4","g":"n","c":10,"v":0.0032},{"w":"M4","g":"n","c":11,"v":0.0041},{"w":"M4","g":"n","c":12,"v":0.0035},{"w":"M4","g":"n","c":13,"v":0.0047},{"w":"M4","g":"n","c":14,"v":0.0042},{"w":"M4","g":"n","c":15,"v":0.0029},{"w":"M4","g":"n","c":16,"v":0.0032},{"w":"M4","g":"n","c":17,"v":0.0025},{"w":"M4","g":"n","c":18,"v":0.0018},
{"w":"K4","g":"n","c":10,"v":0.0044},{"w":"K4","g":"n","c":11,"v":0.0036},{"w":"K4","g":"n","c":12,"v":0.0049},{"w":"K4","g":"n","c":13,"v":0.0053},{"w":"K4","g":"n","c":14,"v":0.0037},{"w":"K4","g":"n","c":15,"v":0.0041},{"w":"K4","g":"n","c":16,"v":0.0027},{"w":"K4","g":"n","c":17,"v":0.0032},{"w":"K4","g":"n","c":18,"v":0.0019},
{"w":"K3","g":"n","c":6,"v":0.0035},{"w":"K3","g":"n","c":7,"v":0.0034},{"w":"K3","g":"n","c":8,"v":0.0032},{"w":"K3","g":"n","c":9,"v":0.0013},{"w":"K3","g":"n","c":10,"v":0.0028},{"w":"K3","g":"n","c":11,"v":0.0036},{"w":"K3","g":"n","c":12,"v":0.003},{"w":"K3","g":"n","c":13,"v":0.0025},
{"w":"K5","g":"n","c":8,"v":0.0003},{"w":"K5","g":"n","c":9,"v":0.0012},{"w":"K5","g":"n","c":10,"v":0.0009},{"w":"K5","g":"n","c":11,"v":0.0016},{"w":"K5","g":"n","c":12,"v":0.0006},{"w":"K5","g":"n","c":13,"v":0.0019},{"w":"K5","g":"n","c":14,"v":0.0022},{"w":"K5","g":"n","c":15,"v":0.0009},{"w":"K5","g":"n","c":16,"v":0.0012},{"w":"K5","g":"n","c":17,"v":0.0004},
{"w":"M7","g":"n","c":14,"v":0.0015},{"w":"M7","g":"n","c":15,"v":0.0006},{"w":"M7","g":"n","c":16,"v":0.0011},{"w":"M7","g":"n","c":17,"v":0.0019},{"w":"M7","g":"n","c":18,"v":0.0009},
{"w":"M11","g":"n","c":12,"v":0.0035},{"w":"M11","g":"n","c":13,"v":0.0026},{"w":"M11","g":"n","c":14,"v":0.0042},{"w":"M11","g":"n","c":15,"v":0.0036},{"w":"M11","g":"n","c":16,"v":0.0022},{"w":"M11","g":"n","c":17,"v":0.0017},{"w":"M11","g":"n","c":18,"v":0.0025}
]},
"layer":[
{"mark":{"type":"line","strokeWidth":1.1,"opacity":0.72,"clip":true},
 "encoding":{
  "x":{"field":"c","type":"quantitative","scale":{"domain":[0.5,45.5],"nice":false,"zero":false},
   "axis":{"values":[1,2,3,4,5,6,7,8,9,10,11,12,13,14,15,16,17,18,19,20,21,22,23,24,25,26,27,28,29,30,31,32,33,34,35,36,37,38,39,40,41,42,43,44,45],
    "tickOffset":6.655,"labelOffset":-6.655,"grid":true,"gridColor":"#6a6a6a","gridWidth":1.4,"ticks":false,
    "domainColor":"#444444","domainWidth":1.5,"labelFontSize":7,"labelPadding":6,"labelAngle":0,"labelOverlap":false,"labelFlush":false,
    "title":"Cycle Number","titleFontSize":8,"titleFontWeight":"normal","titlePadding":12,"titleX":283,"zindex":1}},
  "y":{"field":"v","type":"quantitative","scale":{"type":"log","domain":[0.0001,10],"nice":false},
   "axis":{"values":[0.0001,0.001,0.01,0.1,1,10],
    "labelExpr":"'1.0e' + (datum.value >= 0.999 ? '+' : '-') + pad(toString(abs(round(log(datum.value)/LN10))), 3, '0', 'left')",
    "grid":true,"gridColor":"#c2c2ca","gridWidth":1,"tickSize":4,"tickColor":"#555555","domainColor":"#444444","domainWidth":1.5,
    "labelFontSize":7,"labelPadding":2,"labelFlush":false,"title":"Delta Rn","titleFontSize":8,"titleFontWeight":"normal","titlePadding":20}},
  "color":{"field":"w","type":"nominal","legend":null,
   "scale":{"domain":["M1","M2","M3","M4","M5","M6","M7","M8","M9","M10","M11","M12","K1","K2","K3","K4","K5","F1","F2","F3","F4"],
    "range":["#e87fa0","#808080","#e8a070","#a0a850","#6a8fd0","#9b7fc8","#5fb5a5","#d4b060","#70b870","#8cc8e8","#c890c8","#e06a6a","#8a8a55","#5a78d0","#666666","#e890b8","#a8b860","#5f9ea0","#e07a95","#8585d5","#e8606a"]}},
  "detail":{"field":"g"}
 }},
{"mark":{"type":"rule","color":"#6a9896","strokeWidth":1.8},"encoding":{"y":{"datum":0.2}}}
]
}
